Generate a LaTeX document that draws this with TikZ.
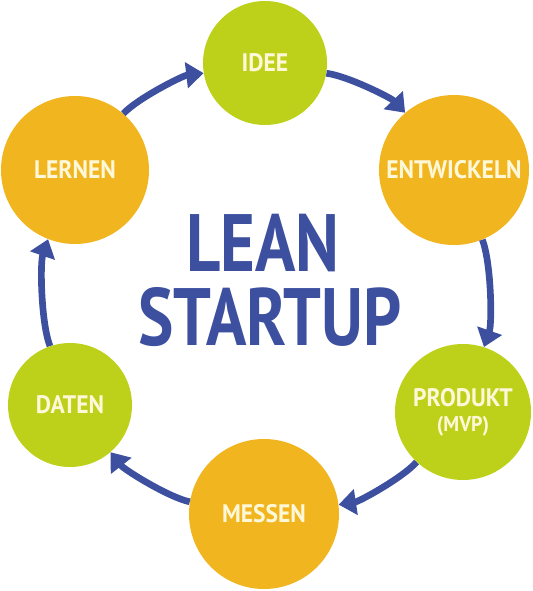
\documentclass[tikz,border=0pt]{standalone}
\usepackage{fontspec}
\usepackage{xcolor}
\usepackage{tikz}
\usetikzlibrary{arrows.meta}

\newfontfamily\labelfont[FakeStretch=0.93]{PT Sans Bold}
\newfontfamily\titlefont[FakeStretch=0.82]{PT Sans Bold}

\definecolor{leangreen}{HTML}{BDD11B}
\definecolor{leanorange}{HTML}{F1B51F}
\definecolor{leanblue}{HTML}{3D4F9F}
\definecolor{leancream}{HTML}{FFF8D8}

\begin{document}
\begin{tikzpicture}[x=0.75pt, y=0.75pt,
	phase/.style={circle, inner sep=0pt, text=leancream, align=center,
		font=\labelfont\fontsize{19}{22}\selectfont},
	greenphase/.style={phase, fill=leangreen},
	orangephase/.style={phase, fill=leanorange},
	flow/.style={draw=leanblue, line width=5pt, bend left=20, looseness=0.6,
		-{Triangle[length=13pt, width=19pt, fill=leanblue]}},
	title/.style={text=leanblue, anchor=base, inner sep=0pt,
		text height=43pt, text depth=0pt,
		font=\titlefont\fontsize{61}{61}\selectfont}]
	\useasboundingbox (0,0) rectangle (532,-591);
	\node[greenphase, minimum size=93pt] (idee) at (265,-63) {IDEE};
	\node[orangephase, minimum size=112.5pt] (entwickeln) at (454,-170) {ENTWICKELN};
	\node[greenphase, minimum size=102pt] (produkt) at (463,-412) {PRODUKT\\[-3pt]{\fontsize{16}{18}\selectfont (MVP)}};
	\node[orangephase, minimum size=112.5pt] (messen) at (264,-514) {MESSEN};
	\node[greenphase, minimum size=93pt] (daten) at (70,-405) {DATEN};
	\node[orangephase, minimum size=111pt] (lernen) at (75,-170) {LERNEN};
	\node[title] (lean) at (263,-272) {LEAN};
	\node[title] (startup) at (270,-345) {STARTUP};
	\draw[flow] (lernen) to (idee);
	\draw[flow] (idee) to (entwickeln);
	\draw[flow] (entwickeln) to (produkt);
	\draw[flow] (produkt) to (messen);
	\draw[flow] (messen) to (daten);
	\draw[flow] (daten) to (lernen);
\end{tikzpicture}
\end{document}
